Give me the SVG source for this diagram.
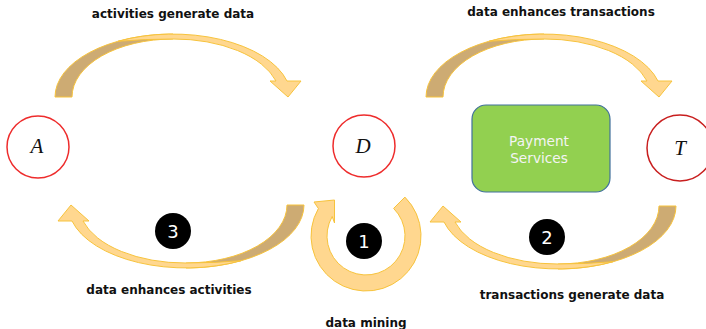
<svg xmlns="http://www.w3.org/2000/svg" width="706" height="329" viewBox="0 0 706 329">
<style>
.lbl{font-family:"DejaVu Sans",Verdana,sans-serif;font-weight:bold;font-size:12px;fill:#111;text-anchor:middle}
.var{font-family:"Liberation Serif","DejaVu Serif",serif;font-style:italic;font-size:21px;fill:#111;text-anchor:middle}
.num{font-family:"DejaVu Sans",sans-serif;font-size:18px;fill:#fff;text-anchor:middle}
.dark{fill:#CDAB73;stroke:#F7C33C;stroke-width:1}
.light{fill:#FFD78F;stroke:#F7C33C;stroke-width:1}
.node{fill:#fff;stroke-width:1.5}
.badge{fill:#000}
</style>
<defs>
<g id="carrow">
<path class="dark" d="M55,97 A118,63 0 0 1 173,34 L173,39 A101,58 0 0 0 72,97 Z"/>
<path class="light" d="M118,41.3 A118,63 0 0 1 287,81 L301,81 L288,97 L270,81 L276,81 A106,58 0 0 0 173,39 Q145,39 118,41.3 Z"/>
</g>
</defs>
<g id="connectors">
<use href="#carrow"/>
<use href="#carrow" transform="translate(371,0)"/>
<use href="#carrow" transform="matrix(-1,0,0,-1,359,302)"/>
<use href="#carrow" transform="matrix(-1,0,0,-1,731,303)"/>
<path class="light" d="M404.9,197.1 A55,55 0 1 1 318.4,208.5 L314,202 L334.5,200 L334.5,223 L332.2,216.5 A39,39 0 1 0 393.6,208.4 Z"/>
</g>
<g id="labels">
<text class="lbl" x="173" y="18">activities generate data</text>
<text class="lbl" x="561" y="16">data enhances transactions</text>
<text class="lbl" x="169" y="294">data enhances activities</text>
<text class="lbl" x="572" y="299">transactions generate data</text>
<text class="lbl" x="366" y="327">data mining</text>
</g>
<g id="node-A">
<circle class="node" cx="38" cy="147" r="31" stroke="#EE2C2C"/>
<text class="var" x="37" y="153">A</text>
</g>
<g id="node-D">
<circle class="node" cx="364" cy="146" r="31" stroke="#EE2C2C"/>
<text class="var" x="363" y="153">D</text>
</g>
<g id="node-T">
<circle class="node" cx="680" cy="148" r="33" stroke="#C81E1E"/>
<text class="var" x="680" y="155">T</text>
</g>
<g id="node-payment">
<rect x="472" y="105" width="138" height="87" rx="14" fill="#92D050" stroke="#41719C" stroke-width="1.2"/>
<text x="539" y="146" font-family="DejaVu Sans,Verdana,sans-serif" font-size="13.7" fill="#F4F4F4" text-anchor="middle">Payment</text>
<text x="539" y="163" font-family="DejaVu Sans,Verdana,sans-serif" font-size="13.7" fill="#F4F4F4" text-anchor="middle">Services</text>
</g>
<g id="badge-1">
<circle class="badge" cx="364" cy="241" r="18"/>
<text class="num" x="364" y="247.5">1</text>
</g>
<g id="badge-2">
<circle class="badge" cx="547" cy="237" r="18"/>
<text class="num" x="547" y="243.5">2</text>
</g>
<g id="badge-3">
<circle class="badge" cx="173" cy="231" r="18"/>
<text class="num" x="173" y="237.5">3</text>
</g>
</svg>
